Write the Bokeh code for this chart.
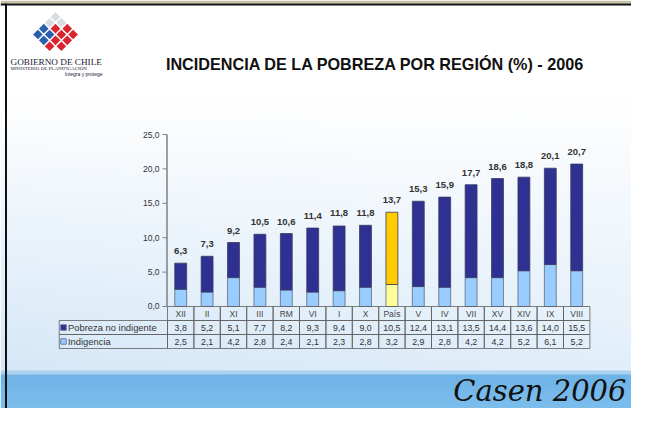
import numpy as np
from bokeh.plotting import figure
from bokeh.models import Range1d
from bokeh.embed import file_html
from bokeh.resources import INLINE
from bokeh.core.properties import value

# ---------------- data ----------------
regions = ["XII", "II", "XI", "III", "RM", "VI", "I", "X", "País",
           "V", "IV", "VII", "XV", "XIV", "IX", "VIII"]
pobreza_no_indigente = [3.8, 5.2, 5.1, 7.7, 8.2, 9.3, 9.4, 9.0, 10.5,
                        12.4, 13.1, 13.5, 14.4, 13.6, 14.0, 15.5]
indigencia = [2.5, 2.1, 4.2, 2.8, 2.4, 2.1, 2.3, 2.8, 3.2,
              2.9, 2.8, 4.2, 4.2, 5.2, 6.1, 5.2]
total = [6.3, 7.3, 9.2, 10.5, 10.6, 11.4, 11.8, 11.8, 13.7,
         15.3, 15.9, 17.7, 18.6, 18.8, 20.1, 20.7]
series_names = ["Pobreza no indigente", "Indigencia"]
y_ticks = [0, 5, 10, 15, 20, 25]
highlight = "País"
title_text = "INCIDENCIA DE LA POBREZA POR REGIÓN (%) - 2006"

def fmt(v):
    return f"{v:.1f}".replace(".", ",")

W, H = 631, 408
def PX(rx):  # reference x -> px range
    return rx
def PY(ry):  # reference y (top-down) -> px range (bottom-up)
    return H - ry

p = figure(width=W, height=H,
           x_range=Range1d(-6.3258, 17.5757), y_range=Range1d(-14.826, 44.477),
           output_backend="svg", toolbar_location=None, min_border=0,
           x_axis_location=None, y_axis_location=None,
           outline_line_color=None, background_fill_color="white",
           border_fill_color="white")
p.grid.visible = False
p.extra_x_ranges = {"px": Range1d(0, W)}
p.extra_y_ranges = {"px": Range1d(0, H)}

# ---------------- background (decoration) ----------------
BAND_TOP = 372
h2, w2 = 204, 316
ys = (np.arange(h2) + 0.5) * 2.0
xs = (np.arange(w2) + 0.5) * 2.0
RY, RX = np.meshgrid(H - ys, xs, indexing="ij")
t = np.clip((RY - 100) / 276.0, 0, 1) * (1 - 0.3 * RX / 647.0)
top_c = np.array([255, 255, 255.0])
blu_c = np.array([212, 231, 247.0])
rgb = top_c[None, None, :] * (1 - t[..., None]) + blu_c[None, None, :] * t[..., None]
band = RY >= BAND_TOP
tb = np.clip((RY - BAND_TOP) / 40.0, 0, 1)
band_rgb = (np.array([110, 179, 231.0])[None, None, :] * (1 - tb[..., None])
            + np.array([126, 191, 237.0])[None, None, :] * tb[..., None])
rgb = np.where(band[..., None], band_rgb, rgb)
edge = (RY >= BAND_TOP - 1) & (RY < BAND_TOP + 2)
rgb = np.where(edge[..., None], np.array([170, 210, 240.0])[None, None, :], rgb)
img = np.empty((h2, w2), dtype=np.uint32)
view = img.view(dtype=np.uint8).reshape((h2, w2, 4))
view[..., 0] = rgb[..., 0].astype(np.uint8)
view[..., 1] = rgb[..., 1].astype(np.uint8)
view[..., 2] = rgb[..., 2].astype(np.uint8)
view[..., 3] = 255
p.image_rgba(image=[img], x=0, y=0, dw=632, dh=408,
             x_range_name="px", y_range_name="px")

# slide frame (decoration)
p.quad(left=[0], right=[W], bottom=[PY(3)], top=[PY(0)], fill_color="#c8c3a6",
       line_color=None, x_range_name="px", y_range_name="px")
p.quad(left=[0], right=[W], bottom=[PY(5)], top=[PY(3)], fill_color="#111111",
       line_color=None, x_range_name="px", y_range_name="px")
p.quad(left=[4.5], right=[6.5], bottom=[0], top=[PY(3)], fill_color="#111111",
       line_color=None, x_range_name="px", y_range_name="px")

# ---------------- logo (decoration) ----------------
s = 8.3
cx, cy = PX(55), PY(34)
lx, ly, lc = [], [], []
for i in range(4):
    for j in range(4):
        if (i, j) == (3, 3):
            continue
        u, v = (i - 1.5) * s, (j - 1.5) * s
        dx = (u - v) / np.sqrt(2)
        dy = (u + v) / np.sqrt(2)
        lx.append(cx + dx)
        ly.append(cy - dy)
        if i + j <= 1:
            lc.append("#d8dbe0")
        elif i <= 1 and j >= 2:
            lc.append("#2b5fae")
        else:
            lc.append("#d9252e")
p.scatter(x=lx, y=ly, marker="square", size=s * 0.82, angle=np.pi / 4,
          fill_color=lc, line_color=None, x_range_name="px", y_range_name="px")
p.text(x=[PX(10)], y=[PY(61)], text=["GOBIERNO DE CHILE"],
       text_font=value("Liberation Serif"), text_font_size="9.2px",
       text_color="#1a1a3a", text_baseline="middle",
       x_range_name="px", y_range_name="px")
p.text(x=[PX(10)], y=[PY(67.5)], text=["MINISTERIO DE PLANIFICACIÓN"],
       text_font=value("Liberation Serif"), text_font_size="5px",
       text_color="#1a1a3a", text_baseline="middle",
       x_range_name="px", y_range_name="px")
p.text(x=[PX(102)], y=[PY(73)], text=["Integra y protege"],
       text_font=value("Liberation Sans"), text_font_size="5px",
       text_color="#1a1a3a", text_baseline="middle", text_align="right",
       x_range_name="px", y_range_name="px")

# ---------------- title ----------------
p.text(x=[PX(375)], y=[PY(63)], text=[title_text],
       text_font=value("Liberation Sans"), text_font_style="bold",
       text_font_size="16.2px", text_color="#111111",
       text_align="center", text_baseline="middle",
       x_range_name="px", y_range_name="px")

# ---------------- chart ----------------
n = len(regions)
xc = [i + 0.5 for i in range(n)]
ind_colors = ["#FFFF99" if r == highlight else "#99CCFF" for r in regions]
pob_colors = ["#FFCC00" if r == highlight else "#2E3192" for r in regions]
tops = [a + b for a, b in zip(indigencia, pobreza_no_indigente)]

p.vbar(x=xc, width=0.45, bottom=0, top=indigencia, fill_color=ind_colors,
       line_color="#5a6a80", line_width=0.8)
p.vbar(x=xc, width=0.45, bottom=indigencia, top=tops, fill_color=pob_colors,
       line_color="#3a3a60", line_width=0.8)
p.text(x=xc, y=total, text=[fmt(v) for v in total],
       text_font=value("Liberation Sans"), text_font_style="bold",
       text_font_size="9.5px", text_color="#333333",
       text_align="center", text_baseline="bottom", y_offset=-9)

# y axis (drawn)
p.segment(x0=[PX(166.5)], x1=[PX(166.5)], y0=[0], y1=[max(y_ticks)],
          line_color="#808080", line_width=1.5, x_range_name="px")
p.segment(x0=[PX(162)] * len(y_ticks), x1=[PX(166.5)] * len(y_ticks),
          y0=y_ticks, y1=y_ticks, line_color="#808080", line_width=1,
          x_range_name="px")
p.text(x=[PX(159)] * len(y_ticks), y=y_ticks, text=[fmt(v) for v in y_ticks],
       text_font=value("Liberation Sans"), text_font_size="8.5px",
       text_color="#333333", text_align="right", text_baseline="middle",
       x_range_name="px")

# ---------------- data table ----------------
lefts = [float(i) for i in range(n)]
rights = [float(i + 1) for i in range(n)]
row_edges = [306, 320, 334, 348]
grid_col = "#606060"
# category row
p.quad(left=lefts, right=rights, bottom=[PY(row_edges[1])] * n,
       top=[PY(row_edges[0])] * n, fill_color=None, line_color=grid_col,
       line_width=0.8, y_range_name="px")
p.text(x=xc, y=[PY(313)] * n, text=regions,
       text_font=value("Liberation Sans"), text_font_size="8.5px",
       text_color="#444444", text_align="center", text_baseline="middle",
       y_range_name="px")
rows = [pobreza_no_indigente, indigencia]
legend_colors = ["#2E3192", "#99CCFF"]
for k, vals in enumerate(rows):
    top_y, bot_y = PY(row_edges[k + 1]), PY(row_edges[k + 2])
    p.quad(left=lefts + [-4.1], right=rights + [0.0], bottom=[bot_y] * (n + 1),
           top=[top_y] * (n + 1), fill_color=None, line_color=grid_col,
           line_width=0.8, y_range_name="px")
    mid = (top_y + bot_y) / 2
    p.text(x=xc, y=[mid] * n, text=[fmt(v) for v in vals],
           text_font=value("Liberation Sans"), text_font_size="8.8px",
           text_color="#333333", text_align="center", text_baseline="middle",
           y_range_name="px")
    p.scatter(x=[PX(63)], y=[mid], marker="square", size=5.5,
              fill_color=legend_colors[k], line_color="#4a5a80", line_width=0.7,
              x_range_name="px", y_range_name="px")
    p.text(x=[PX(67.5)], y=[mid], text=[series_names[k]],
           text_font=value("Liberation Sans"), text_font_size="9.4px",
           text_color="#333333", text_align="left", text_baseline="middle",
           x_range_name="px", y_range_name="px")

# ---------------- footer text ----------------
p.text(x=[PX(626)], y=[PY(390)], text=["Casen 2006"],
       text_font=value("DejaVu Serif"), text_font_style="italic",
       text_font_size="29px", text_color="#111111",
       text_align="right", text_baseline="middle",
       x_range_name="px", y_range_name="px")

open("out.html", "w").write(file_html(p, INLINE))
